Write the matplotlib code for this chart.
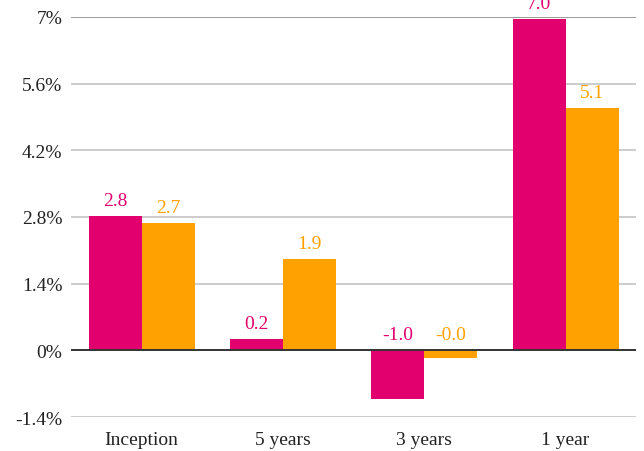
import numpy as np
import matplotlib.pyplot as plt

# Datos del gráfico
categorias = ['Inception', '5 years', '3 years', '1 year']
serie_a = [2.83, 0.23, -1.03, 6.95]
serie_b = [2.68, 1.91, -0.17, 5.09]
etiquetas_a = ['2.8', '0.2', '-1.0', '7.0']
etiquetas_b = ['2.7', '1.9', '-0.0', '5.1']
yticks = [-1.4, 0, 1.4, 2.8, 4.2, 5.6, 7]
ytick_labels = ['-1.4%', '0%', '1.4%', '2.8%', '4.2%', '5.6%', '7%']

rosa = '#E2006E'
naranja = '#FFA100'

plt.rcParams['font.family'] = ['Liberation Serif', 'DejaVu Serif']

fig = plt.figure(figsize=(6.44, 4.52), dpi=100)
ax = fig.add_axes([0.110, 0.0752, 0.878, 0.885])

x = np.arange(len(categorias))
ancho = 0.375

# Cuadrícula horizontal
for t in yticks:
    if t == 0:
        continue
    color = '#8a8a8a' if t == 7 else '#c4c4c4'
    ax.axhline(t, color=color, lw=1.2, zorder=0)

barras_a = ax.bar(x - ancho / 2, serie_a, ancho, color=rosa, zorder=2)
barras_b = ax.bar(x + ancho / 2, serie_b, ancho, color=naranja, zorder=2)
ax.axhline(0, color='#333333', lw=1.4, zorder=3)

# Etiquetas de valor
for barras, etiquetas, color in [(barras_a, etiquetas_a, rosa), (barras_b, etiquetas_b, naranja)]:
    for b, txt in zip(barras, etiquetas):
        top = max(b.get_height(), 0) if b.get_y() >= 0 else 0
        ax.annotate(txt, (b.get_x() + b.get_width() / 2, top),
                    xytext=(0, 5), textcoords='offset points',
                    ha='center', va='bottom', color=color, fontsize=14,
                    annotation_clip=False)

ax.set_xlim(-0.5, 3.5)
ax.set_ylim(-1.4, 7)
ax.set_xticks(x)
ax.set_xticklabels(categorias, fontsize=14, color='#222222')
ax.set_yticks(yticks)
ax.set_yticklabels(ytick_labels, fontsize=14, color='#222222')
ax.tick_params(length=0, pad=6)
ax.tick_params(axis='x', pad=10)
for s in ax.spines.values():
    s.set_visible(False)

fig.savefig('out.png', dpi=100)
